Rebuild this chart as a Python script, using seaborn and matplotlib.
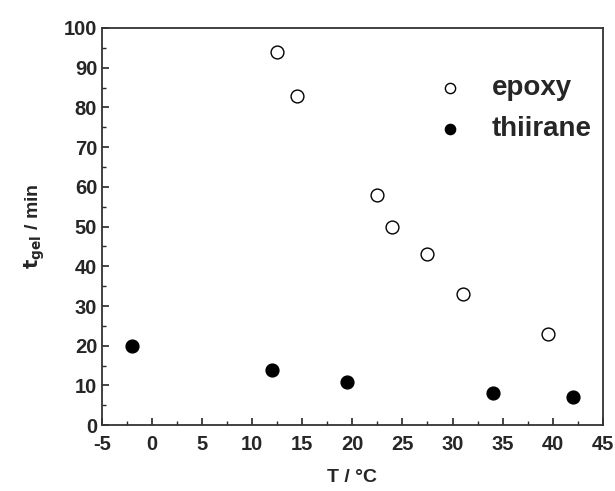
import pandas as pd
import numpy as np
import matplotlib
matplotlib.use("Agg")
import matplotlib.pyplot as plt
import seaborn as sns
from matplotlib.ticker import MultipleLocator

# data
epoxy_T = [12.5, 14.5, 22.5, 24.0, 27.5, 31.0, 39.5]
epoxy_tgel = [94, 83, 58, 50, 43, 33, 23]
thiirane_T = [-2.0, 12.0, 19.5, 34.0, 42.0]
thiirane_tgel = [20, 14, 11, 8, 7]

sns.set_style("ticks")
plt.rcParams['font.family'] = ['Liberation Sans', 'DejaVu Sans']
plt.rcParams['font.weight'] = 'bold'
plt.rcParams['axes.unicode_minus'] = False

epoxy = pd.DataFrame({'T': epoxy_T, 'tgel': epoxy_tgel})
thiirane = pd.DataFrame({'T': thiirane_T, 'tgel': thiirane_tgel})

fig = plt.figure(figsize=(6.15, 4.91), dpi=100)
ax = fig.add_axes([0.166, 0.134, 0.814, 0.809])

sns.scatterplot(data=epoxy, x='T', y='tgel', ax=ax, marker='o', s=85,
                facecolor='white', edgecolor='black', linewidth=1.0, label='epoxy')
sns.scatterplot(data=thiirane, x='T', y='tgel', ax=ax, marker='o', s=85,
                color='black', edgecolor='black', linewidth=1.0, label='thiirane')

ax.set_xlim(-5, 45)
ax.set_ylim(0, 100)
ax.xaxis.set_major_locator(MultipleLocator(5))
ax.xaxis.set_minor_locator(MultipleLocator(2.5))
ax.yaxis.set_major_locator(MultipleLocator(10))
ax.yaxis.set_minor_locator(MultipleLocator(5))
ax.tick_params(which='both', direction='in', top=False, right=False)
ax.tick_params(which='major', length=5, width=1.2, labelsize=14.5)
ax.tick_params(axis='x', which='major', pad=7)
ax.tick_params(which='minor', length=3, width=1.0)
for lab in ax.get_xticklabels() + ax.get_yticklabels():
    lab.set_fontweight('bold')
for sp in ax.spines.values():
    sp.set_linewidth(1.3)
    sp.set_color('#333333')

ax.set_xlabel('T / °C', fontsize=14, fontweight='bold', labelpad=11)
ax.set_ylabel(r'$\mathbf{t_{gel}}$ / min', fontsize=14, fontweight='bold', labelpad=12)

leg = ax.legend(loc='upper left', bbox_to_anchor=(0.618, 0.945), frameon=False,
                fontsize=20, handlelength=1.0, handletextpad=1.0,
                labelspacing=0.55, markerscale=0.8)

fig.savefig('out.png', dpi=100)
